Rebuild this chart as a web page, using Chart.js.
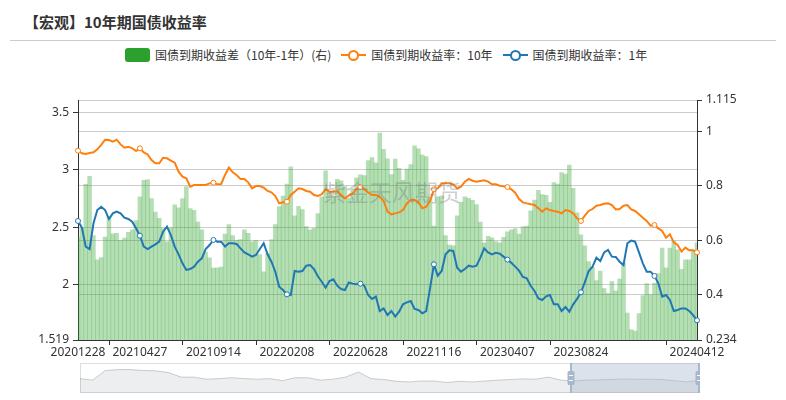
<!DOCTYPE html>
<html>
<head>
<meta charset="utf-8">
<script src="https://cdn.jsdelivr.net/npm/chart.js@4.4.1/dist/chart.umd.min.js"></script>
<style>
  html, body { margin: 0; padding: 0; background: #fff; }
  body { width: 786px; height: 400px; position: relative; overflow: hidden;
         font-family: 'Noto Sans CJK SC', 'Noto Sans', sans-serif; color: #333; }
  #title { position: absolute; left: 24px; top: 12px; font-size: 15px; font-weight: bold; line-height: 20px; }
  #rule { position: absolute; left: 10px; right: 10px; top: 40px; border-top: 1px solid #ccc; }
  #legend { position: absolute; left: 125px; top: 47px; display: flex; align-items: center; font-size: 12px; line-height: 16px; }
  .item { display: flex; align-items: center; margin-right: 10px; }
  .box { width: 25px; height: 14px; border-radius: 3px; margin-right: 5px; }
  .lineicon { position: relative; width: 25px; height: 14px; margin-right: 5px; }
  .lineicon::before { content: ''; position: absolute; left: 0; right: 0; top: 6px; height: 2px; background: var(--c); }
  .lineicon::after { content: ''; position: absolute; left: 7px; top: 1.5px; width: 7px; height: 7px;
                     border: 2px solid var(--c); border-radius: 50%; background: #fff; }
  #main { position: absolute; left: 0; top: 0; }
  #zoom { position: absolute; left: 80px; top: 363px; }
</style>
</head>
<body>
<div id="title">【宏观】10年期国债收益率</div>
<div id="rule"></div>
<div id="legend"></div>
<canvas id="main" width="786" height="360"></canvas>
<canvas id="zoom" width="620" height="30"></canvas>
<script>
// x axis: 161 points, labels shown at a few positions
const tickLabels = ['20201228', '20210427', '20210914', '20220208', '20220628', '20221116', '20230407', '20230824', '20240412'];
const tickLabelIdx = [0, 16, 35, 54, 73, 92, 111, 130, 160];
const markerIdx = [0, 16, 35, 54, 73, 92, 111, 130, 149, 160];
const tickMarkIdx = [8, 27, 46, 65, 84, 103, 122, 152];

const yield10 = [
  3.165, 3.142, 3.136, 3.145, 3.151, 3.177, 3.215, 3.261, 3.258, 3.244,
  3.261, 3.220, 3.191, 3.200, 3.186, 3.162, 3.186, 3.151, 3.133, 3.084,
  3.055, 3.055, 3.104, 3.099, 3.078, 3.061, 2.983, 2.939, 2.925, 2.852,
  2.867, 2.867, 2.867, 2.867, 2.881, 2.887, 2.873, 2.876, 2.954, 3.018,
  2.977, 2.954, 2.919, 2.919, 2.890, 2.838, 2.858, 2.858, 2.844, 2.815,
  2.803, 2.771, 2.707, 2.716, 2.722, 2.780, 2.809, 2.838, 2.832, 2.815,
  2.809, 2.780, 2.771, 2.786, 2.829, 2.809, 2.809, 2.815, 2.780, 2.751,
  2.774, 2.794, 2.832, 2.849, 2.829, 2.803, 2.780, 2.780, 2.765, 2.728,
  2.635, 2.612, 2.620, 2.629, 2.649, 2.707, 2.736, 2.736, 2.716, 2.664,
  2.678, 2.728, 2.829, 2.838, 2.881, 2.881, 2.881, 2.873, 2.838, 2.852,
  2.896, 2.919, 2.904, 2.896, 2.902, 2.907, 2.896, 2.873, 2.873, 2.861,
  2.855, 2.849, 2.829, 2.800, 2.745, 2.716, 2.707, 2.699, 2.693, 2.664,
  2.635, 2.664, 2.649, 2.641, 2.635, 2.620, 2.649, 2.641, 2.620, 2.577,
  2.554, 2.600, 2.641, 2.658, 2.687, 2.693, 2.704, 2.707, 2.693, 2.655,
  2.658, 2.687, 2.693, 2.655, 2.641, 2.612, 2.583, 2.554, 2.513, 2.519,
  2.490, 2.467, 2.409, 2.438, 2.368, 2.345, 2.287, 2.322, 2.299, 2.299, 2.281
];

const yield1 = [
  2.554, 2.496, 2.331, 2.310, 2.534, 2.649, 2.678, 2.649, 2.571, 2.620,
  2.635, 2.620, 2.583, 2.571, 2.548, 2.490, 2.426, 2.331, 2.310, 2.331,
  2.351, 2.374, 2.461, 2.505, 2.432, 2.331, 2.264, 2.186, 2.128, 2.136,
  2.157, 2.200, 2.229, 2.310, 2.345, 2.389, 2.374, 2.374, 2.331, 2.360,
  2.360, 2.354, 2.316, 2.281, 2.264, 2.244, 2.258, 2.310, 2.360, 2.264,
  2.200, 2.113, 1.983, 1.954, 1.916, 1.910, 2.119, 2.113, 2.119, 2.165,
  2.171, 2.136, 2.073, 2.026, 1.974, 2.032, 2.047, 1.991, 1.962, 1.954,
  2.020, 2.009, 2.003, 2.009, 1.991, 1.910, 1.876, 1.896, 1.771, 1.794,
  1.736, 1.771, 1.722, 1.765, 1.829, 1.846, 1.858, 1.789, 1.780, 1.751,
  1.771, 1.968, 2.177, 2.078, 2.119, 2.264, 2.299, 2.293, 2.148, 2.113,
  2.136, 2.165, 2.157, 2.165, 2.235, 2.316, 2.281, 2.264, 2.278, 2.270,
  2.244, 2.218, 2.191, 2.157, 2.122, 2.067, 2.055, 1.991, 1.945, 1.881,
  1.867, 1.899, 1.910, 1.829, 1.829, 1.771, 1.806, 1.765, 1.829, 1.876,
  1.934, 2.020, 2.119, 2.157, 2.235, 2.206, 2.281, 2.302, 2.244, 2.241,
  2.200, 2.171, 2.360, 2.383, 2.374, 2.281, 2.186, 2.113, 2.113, 2.076,
  2.012, 1.896, 1.910, 1.867, 1.771, 1.780, 1.794, 1.794, 1.771, 1.736, 1.690
];

const spread = [
  0.611, 0.646, 0.805, 0.835, 0.617, 0.528, 0.537, 0.612, 0.687, 0.624,
  0.626, 0.600, 0.608, 0.629, 0.638, 0.672, 0.760, 0.820, 0.823, 0.753,
  0.704, 0.681, 0.643, 0.594, 0.646, 0.730, 0.719, 0.753, 0.797, 0.716,
  0.710, 0.667, 0.638, 0.557, 0.536, 0.498, 0.499, 0.502, 0.623, 0.658,
  0.617, 0.600, 0.603, 0.638, 0.626, 0.594, 0.600, 0.548, 0.484, 0.551,
  0.603, 0.658, 0.724, 0.762, 0.806, 0.870, 0.690, 0.725, 0.713, 0.650,
  0.638, 0.644, 0.698, 0.760, 0.855, 0.777, 0.762, 0.824, 0.818, 0.797,
  0.754, 0.785, 0.829, 0.840, 0.838, 0.893, 0.904, 0.884, 0.994, 0.934,
  0.899, 0.841, 0.898, 0.864, 0.820, 0.861, 0.878, 0.947, 0.936, 0.913,
  0.907, 0.760, 0.652, 0.760, 0.762, 0.617, 0.582, 0.580, 0.690, 0.739,
  0.760, 0.754, 0.747, 0.731, 0.667, 0.591, 0.615, 0.609, 0.595, 0.591,
  0.611, 0.631, 0.638, 0.643, 0.623, 0.649, 0.652, 0.708, 0.748, 0.783,
  0.768, 0.765, 0.739, 0.812, 0.806, 0.849, 0.843, 0.876, 0.791, 0.701,
  0.620, 0.580, 0.522, 0.501, 0.452, 0.487, 0.423, 0.405, 0.449, 0.414,
  0.458, 0.516, 0.333, 0.272, 0.267, 0.331, 0.397, 0.441, 0.400, 0.443,
  0.478, 0.571, 0.499, 0.571, 0.597, 0.565, 0.493, 0.528, 0.528, 0.563, 0.591
];

const leftTicks = [1.519, 2, 2.5, 3, 3.5, 3.606];
const rightTicks = [0.234, 0.4, 0.6, 0.8, 1, 1.115];

// long history shadow in the zoom slider (relative height)
const zoomShadow = [
  0.48, 0.43, 0.75, 0.78, 0.78, 0.75, 0.74, 0.68, 0.53, 0.53,
  0.46, 0.48, 0.51, 0.48, 0.46, 0.48, 0.41, 0.51, 0.51, 0.43,
  0.46, 0.53, 0.70, 0.48, 0.45, 0.39, 0.37, 0.40, 0.40, 0.35,
  0.39, 0.37, 0.40, 0.43, 0.45, 0.47, 0.46, 0.53, 0.43, 0.40,
  0.43, 0.44, 0.45, 0.47, 0.46, 0.46, 0.45, 0.41, 0.37, 0.43
];
const zoomStart = 0.792;

const categories = yield10.map((v, i) => {
  const k = tickLabelIdx.indexOf(i);
  return k >= 0 ? tickLabels[k] : '';
});

const GREEN = '#2ca02c', ORANGE = '#ff7f0e', BLUE = '#1f77b4';
const TEXT = '#333';

Chart.defaults.font.family = "'Noto Sans', 'Noto Sans CJK SC', sans-serif";
Chart.defaults.font.size = 12;
Chart.defaults.color = TEXT;

const pointR = ctx => markerIdx.includes(ctx.dataIndex) ? 2.5 : 0;

const watermark = {
    id: 'watermark',
    afterDatasetsDraw(chart) {
        const ctx = chart.ctx;
        ctx.save();
        ctx.font = "23px 'Noto Sans CJK SC'";
        ctx.fillStyle = 'rgba(120,120,120,0.35)';
        ctx.textAlign = 'center';
        ctx.textBaseline = 'middle';
        ctx.fillText('紫金天风期货', 392, 192);
        ctx.restore();
    }
};

// small tick marks under the x axis
const xTickMarks = {
    id: 'xTickMarks',
    afterDraw(chart) {
        const ctx = chart.ctx;
        const x = chart.scales.x;
        const y0 = chart.chartArea.bottom;
        ctx.save();
        ctx.strokeStyle = TEXT;
        ctx.lineWidth = 1;
        tickMarkIdx.forEach(i => {
            const px = Math.round(x.getPixelForValue(i)) + 0.5;
            ctx.beginPath();
            ctx.moveTo(px, y0);
            ctx.lineTo(px, y0 + 5);
            ctx.stroke();
        });
        ctx.restore();
    }
};

const chart = new Chart(document.getElementById('main'), {
    type: 'bar',
    data: {
        labels: categories,
        datasets: [{
            type: 'bar',
            label: '国债到期收益差（10年-1年）(右)',
            data: spread,
            yAxisID: 'y1',
            backgroundColor: 'rgba(44,160,44,0.35)',
            borderWidth: 0,
            barPercentage: 1,
            categoryPercentage: 1,
            order: 2
        }, {
            type: 'line',
            label: '国债到期收益率：10年',
            data: yield10,
            yAxisID: 'y',
            borderColor: ORANGE,
            borderWidth: 2,
            pointRadius: pointR,
            pointBackgroundColor: '#fff',
            pointBorderColor: ORANGE,
            pointBorderWidth: 1,
            tension: 0,
            order: 1
        }, {
            type: 'line',
            label: '国债到期收益率：1年',
            data: yield1,
            yAxisID: 'y',
            borderColor: BLUE,
            borderWidth: 2,
            pointRadius: pointR,
            pointBackgroundColor: '#fff',
            pointBorderColor: BLUE,
            pointBorderWidth: 1,
            tension: 0,
            order: 1
        }]
    },
    options: {
        responsive: false,
        animation: false,
        devicePixelRatio: 1,
        layout: { padding: { top: 100, left: 0, right: 0, bottom: 0 } },
        plugins: {
            legend: { display: false },
            tooltip: { enabled: false }
        },
        scales: {
            x: {
                offset: false,
                afterFit: s => { s.height = 20; },
                grid: { display: false, drawTicks: false },
                border: { display: true, color: TEXT },
                ticks: {
                    autoSkip: false, maxRotation: 0, minRotation: 0, padding: 5,
                    callback: (v, i) => categories[i]
                }
            },
            y: {
                position: 'left',
                min: 1.519, max: 3.606,
                afterBuildTicks: s => { s.ticks = leftTicks.map(v => ({ value: v })); },
                afterFit: s => { s.width = 78; },
                grid: {
                    color: '#ccc', tickLength: 5,
                    tickColor: c => c.tick && c.tick.value === 3.606 ? 'rgba(0,0,0,0)' : TEXT
                },
                border: { color: TEXT },
                ticks: { padding: 4, callback: v => v === 3.606 ? '' : String(v) }
            },
            y1: {
                position: 'right',
                min: 0.234, max: 1.115,
                afterBuildTicks: s => { s.ticks = rightTicks.map(v => ({ value: v })); },
                afterFit: s => { s.width = 89; },
                grid: { color: '#ccc', tickLength: 5, tickColor: TEXT },
                border: { color: TEXT },
                ticks: { padding: 4, callback: v => String(v) }
            }
        }
    },
    plugins: [watermark, xTickMarks]
});

// html legend built from the chart's datasets
const legendEl = document.getElementById('legend');
chart.data.datasets.forEach((ds, i) => {
    const item = document.createElement('div');
    item.className = 'item';
    const icon = document.createElement('span');
    if (ds.type === 'bar') {
        icon.className = 'box';
        icon.style.background = GREEN;
    } else {
        icon.className = 'lineicon';
        icon.style.setProperty('--c', ds.borderColor);
    }
    const txt = document.createElement('span');
    txt.textContent = ds.label;
    item.appendChild(icon);
    item.appendChild(txt);
    legendEl.appendChild(item);
});

// data zoom slider
const sliderDeco = {
    id: 'sliderDeco',
    beforeDatasetsDraw(c) {
        const ctx = c.ctx;
        ctx.save();
        ctx.strokeStyle = '#ddd';
        ctx.strokeRect(0.5, 0.5, c.width - 1, c.height - 1);
        ctx.restore();
    },
    afterDatasetsDraw(c) {
        const ctx = c.ctx;
        const w = c.width, h = c.height;
        const x0 = Math.round(w * zoomStart), x1 = w - 1;
        ctx.save();
        ctx.fillStyle = 'rgba(167,183,204,0.4)';
        ctx.fillRect(x0, 0, x1 - x0, h);
        [x0, x1].forEach(x => {
            ctx.fillStyle = '#a7b7cc';
            ctx.fillRect(x - 1, 0, 2, h);
            ctx.beginPath();
            ctx.roundRect(x - 3.5, h / 2 - 7, 7, 14, 1.5);
            ctx.fill();
            ctx.fillStyle = '#fff';
            ctx.fillRect(x - 2, h / 2 - 3, 4, 1);
            ctx.fillRect(x - 2, h / 2 + 2, 4, 1);
        });
        ctx.restore();
    }
};

new Chart(document.getElementById('zoom'), {
    type: 'line',
    data: {
        labels: zoomShadow.map((v, i) => i),
        datasets: [{
            data: zoomShadow,
            borderColor: 'rgba(47,69,84,0.3)',
            borderWidth: 0.8,
            backgroundColor: 'rgba(47,69,84,0.09)',
            fill: 'origin',
            pointRadius: 0,
            tension: 0
        }]
    },
    options: {
        responsive: false,
        animation: false,
        devicePixelRatio: 1,
        layout: { padding: 0 },
        plugins: { legend: { display: false }, tooltip: { enabled: false } },
        scales: {
            x: { display: false, offset: false },
            y: { display: false, min: 0, max: 1 }
        }
    },
    plugins: [sliderDeco]
});
</script>
</body>
</html>
